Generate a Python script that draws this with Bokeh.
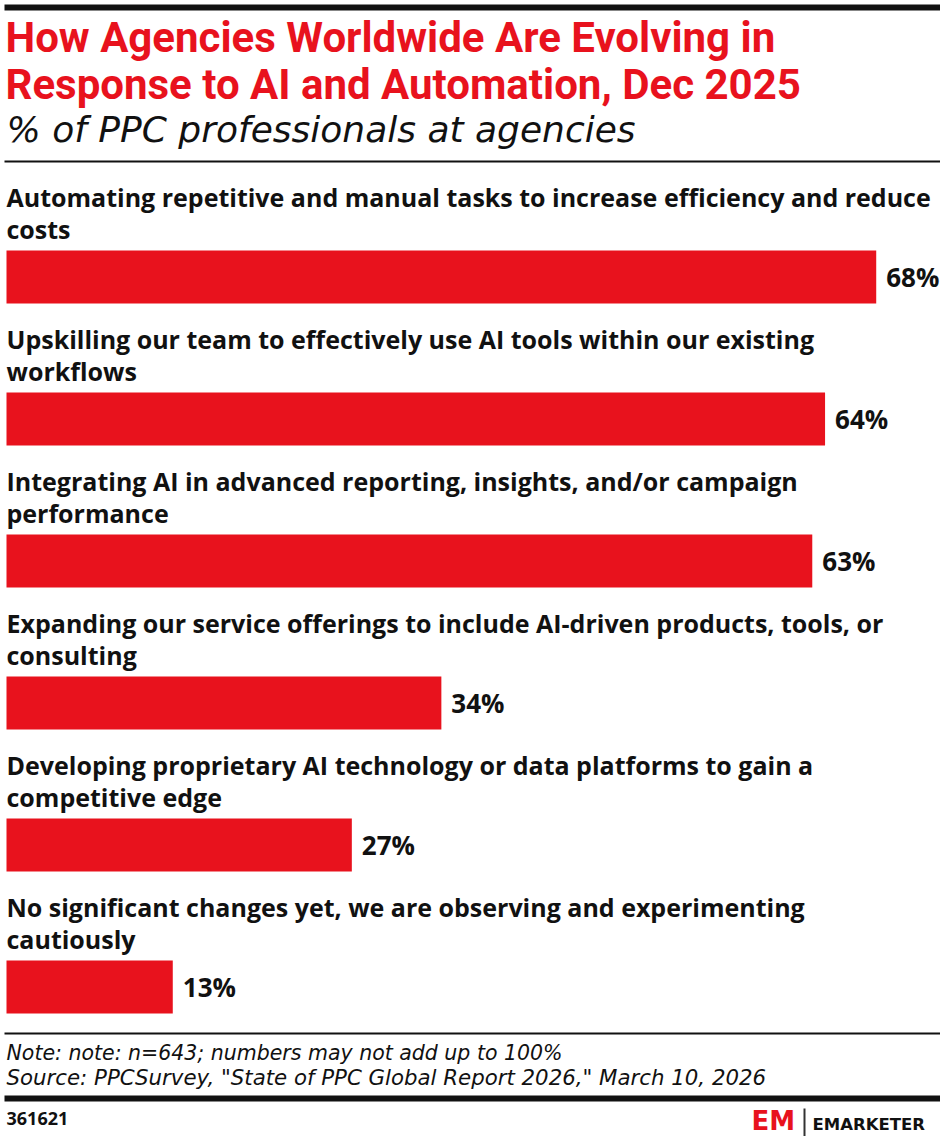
from bokeh.plotting import figure
from bokeh.models import Range1d, Label, BoxAnnotation, ColumnDataSource
from bokeh.core.properties import value
from bokeh.embed import file_html
from bokeh.resources import INLINE

# ---- data ----
title_lines = ["How Agencies Worldwide Are Evolving in",
               "Response to AI and Automation, Dec 2025"]
subtitle = "% of PPC professionals at agencies"
categories = [
    ["Automating repetitive and manual tasks to increase efficiency and reduce", "costs"],
    ["Upskilling our team to effectively use AI tools within our existing", "workflows"],
    ["Integrating AI in advanced reporting, insights, and/or campaign", "performance"],
    ["Expanding our service offerings to include AI-driven products, tools, or", "consulting"],
    ["Developing proprietary AI technology or data platforms to gain a", "competitive edge"],
    ["No significant changes yet, we are observing and experimenting", "cautiously"],
]
values = [68, 64, 63, 34, 27, 13]
value_labels = ["68%", "64%", "63%", "34%", "27%", "13%"]
note = "Note: note: n=643; numbers may not add up to 100%"
source = "Source: PPCSurvey, \"State of PPC Global Report 2026,\" March 10, 2026"
chart_id = "361621"
brand = "EMARKETER"

# ---- layout ----
W, H = 940, 1136
RED = "#e8121d"
INK = "#111111"
LABEL_FONT = "Open Sans"
TITLE_FONT = "Roboto"
NOTE_FONT = "DejaVu Sans"
PX_PER_UNIT = 12.79
x0 = -6 / PX_PER_UNIT

p = figure(width=W, height=H, output_backend="svg", toolbar_location=None,
           x_range=Range1d(x0, x0 + W / PX_PER_UNIT), y_range=Range1d(H, 0),
           min_border=0, outline_line_color=None)
p.axis.visible = False
p.grid.visible = False
p.background_fill_color = "white"

step = 142
first_center = 276.5
centers = [first_center + step * i for i in range(len(values))]
mid1 = [c - 80 for c in centers]
mid2 = [c - 48 for c in centers]

src = ColumnDataSource(dict(y=centers, v=values, lab=value_labels,
                            l1=[c[0] for c in categories], l2=[c[1] for c in categories],
                            y1=mid1, y2=mid2, zero=[0] * len(values)))

p.hbar(y="y", left=0, right="v", height=53, source=src, color=RED, line_color=None)
p.text(x="v", y="y", text="lab", source=src, x_offset=10, text_baseline="middle",
       text_font=value(LABEL_FONT), text_font_style="bold", text_font_size="26px", text_color=INK)
for col_text, col_y in (("l1", "y1"), ("l2", "y2")):
    p.text(x="zero", y=col_y, text=col_text, source=src, x_offset=0, text_baseline="middle",
           text_font=value(LABEL_FONT), text_font_style="bold", text_font_size="25px", text_color=INK)

def label(text, x, y, size, color=INK, style="normal", font=LABEL_FONT):
    p.add_layout(Label(x=x, y=y, x_units="screen", y_units="data", text=text,
                       text_font=font, text_font_size=size, text_font_style=style,
                       text_color=color, text_baseline="middle", text_align="left"))

def rule(top, bottom, left=4, right=944, color=INK):
    p.add_layout(BoxAnnotation(left=left, right=right, left_units="screen", right_units="screen",
                               top=top, bottom=bottom, fill_color=color, fill_alpha=1,
                               line_color=None))

rule(4, 10)
label(title_lines[0], 5, 37, "42px", RED, "bold", TITLE_FONT)
label(title_lines[1], 5, 84, "42px", RED, "bold", TITLE_FONT)
label(subtitle, 6, 129, "36px", INK, "italic", NOTE_FONT)
rule(160, 162)

rule(1032, 1034)
label(note, 6, 1052, "20.5px", INK, "italic", NOTE_FONT)
label(source, 6, 1077, "21.3px", INK, "italic", NOTE_FONT)
rule(1095, 1101)
label(chart_id, 6, 1118, "18px", INK, "bold", LABEL_FONT)
label("EM", 751, 1120, "26px", RED, "bold", NOTE_FONT)
rule(1108, 1139, left=803, right=805, color="#333333")
label(brand, 812, 1124, "16.5px", INK, "bold", NOTE_FONT)

open("out.html", "w").write(file_html(p, INLINE))
